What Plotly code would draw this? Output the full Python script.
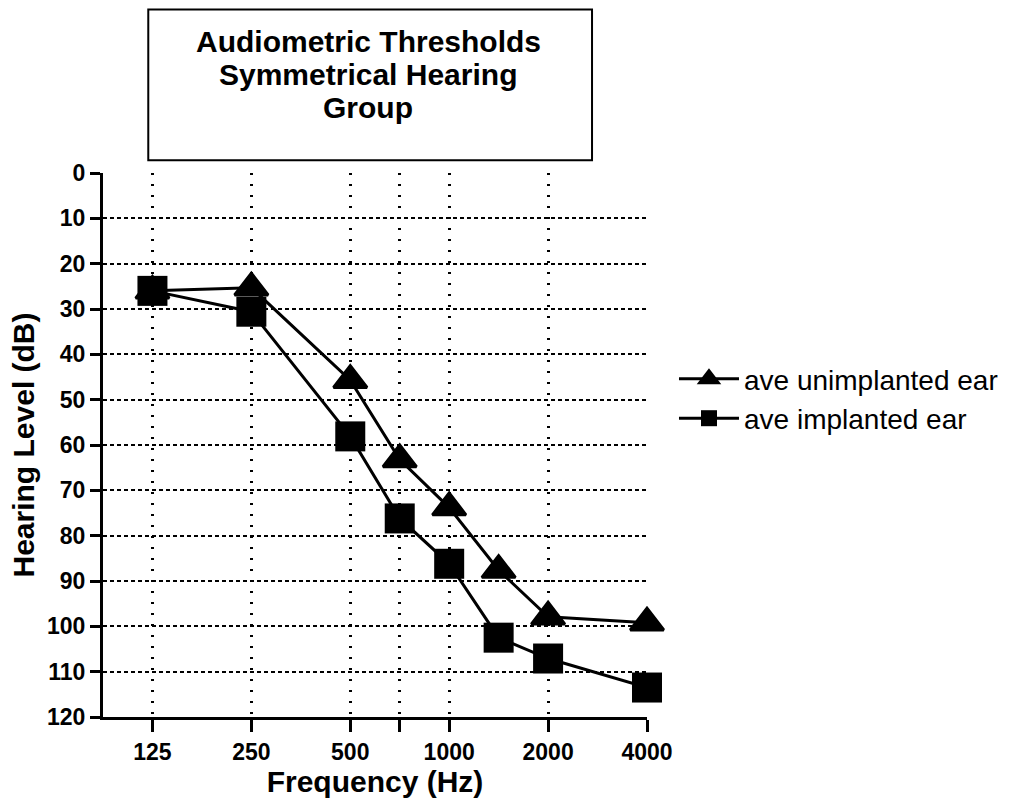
import plotly.graph_objects as go

# ---------------- data ----------------
frequencies_hz = [125, 250, 500, 750, 1000, 1500, 2000, 4000]
unimplanted_db = [26, 25.3, 45.7, 63.2, 73.8, 87.6, 97.9, 99.2]
implanted_db = [26, 30.6, 58.1, 76.2, 86.2, 102.5, 107.1, 113.5]

# audiometric half-octave frequency scale (equal spacing per step)
audiometric_scale = [125, 180, 250, 375, 500, 750, 1000, 1500, 2000, 3000, 4000]
tick_freqs = [125, 250, 500, 750, 1000, 2000, 4000]
tick_labels = ["125", "250", "500", "", "1000", "2000", "4000"]
level_ticks = [0, 10, 20, 30, 40, 50, 60, 70, 80, 90, 100, 110, 120]

series_names = ["ave unimplanted ear", "ave implanted ear"]
title_lines = ["Audiometric Thresholds", "Symmetrical Hearing", "Group"]

# ---------------- layout helpers ----------------
W, H = 1016, 808
L, R, T, B = 102.7, 647.0, 172.7, 717.3  # plot area in pixels


def px_to_paper_x(px):
    return (px - L) / (R - L)


def px_to_paper_y(py):
    return (B - py) / (B - T)


def pos(f):
    return audiometric_scale.index(f)


FONT = "Liberation Sans, Arial, sans-serif"

fig = go.Figure()
fig.add_trace(go.Scatter(
    x=[pos(f) for f in frequencies_hz], y=unimplanted_db,
    mode="lines+markers", name=series_names[0],
    line=dict(color="black", width=3),
    marker=dict(symbol="triangle-up", size=29, color="black",
                line=dict(color="black", width=3)),
    cliponaxis=False,
))
fig.add_trace(go.Scatter(
    x=[pos(f) for f in frequencies_hz], y=implanted_db,
    mode="lines+markers", name=series_names[1],
    line=dict(color="black", width=3),
    marker=dict(symbol="square", size=30, color="black"),
    cliponaxis=False,
))

fig.update_xaxes(
    type="linear", range=[-1, len(audiometric_scale) - 1],
    tickmode="array", tickvals=[pos(f) for f in tick_freqs], ticktext=tick_labels,
    showgrid=True, gridcolor="black", gridwidth=2.5, griddash="2px,9px",
    showline=True, linecolor="black", linewidth=3,
    ticks="outside", ticklen=12, tickwidth=3, tickcolor="black",
    tickfont=dict(family=FONT, size=23, color="black", weight="bold"),
    zeroline=False,
    title=dict(text="Frequency (Hz)", standoff=8,
               font=dict(family=FONT, size=30, color="black", weight="bold")),
)
fig.update_yaxes(
    range=[120, 0], tickmode="array", tickvals=level_ticks,
    ticktext=[str(v) for v in level_ticks],
    showgrid=True, gridcolor="black", gridwidth=1.5, griddash="4px,3px",
    showline=True, linecolor="black", linewidth=3,
    ticks="outside", ticklen=10, tickwidth=3, tickcolor="black",
    tickfont=dict(family=FONT, size=23, color="black", weight="bold"),
    zeroline=False,
    title=dict(text="Hearing Level (dB)", standoff=4,
               font=dict(family=FONT, size=30, color="black", weight="bold")),
)

# title box
fig.add_shape(
    type="rect", xref="paper", yref="paper",
    x0=px_to_paper_x(148), x1=px_to_paper_x(592),
    y0=px_to_paper_y(160), y1=px_to_paper_y(9),
    line=dict(color="black", width=2), fillcolor="white", layer="above",
)
for i, line_text in enumerate(title_lines):
    fig.add_annotation(
        xref="paper", yref="paper",
        x=px_to_paper_x(368), y=px_to_paper_y(41 + 33 * i),
        xanchor="center", yanchor="middle",
        text=line_text, showarrow=False,
        font=dict(family=FONT, size=30, color="black", weight="bold"),
    )

fig.update_layout(
    width=W, height=H, autosize=False,
    margin=dict(l=L, r=W - R, t=T, b=H - B, pad=0),
    paper_bgcolor="white", plot_bgcolor="white",
    showlegend=True,
    legend=dict(x=px_to_paper_x(674), y=px_to_paper_y(354), xanchor="left", yanchor="top",
                font=dict(family=FONT, size=28, color="black"),
                itemwidth=60, bgcolor="rgba(0,0,0,0)", tracegroupgap=0),
)

fig.write_html("out.html")
